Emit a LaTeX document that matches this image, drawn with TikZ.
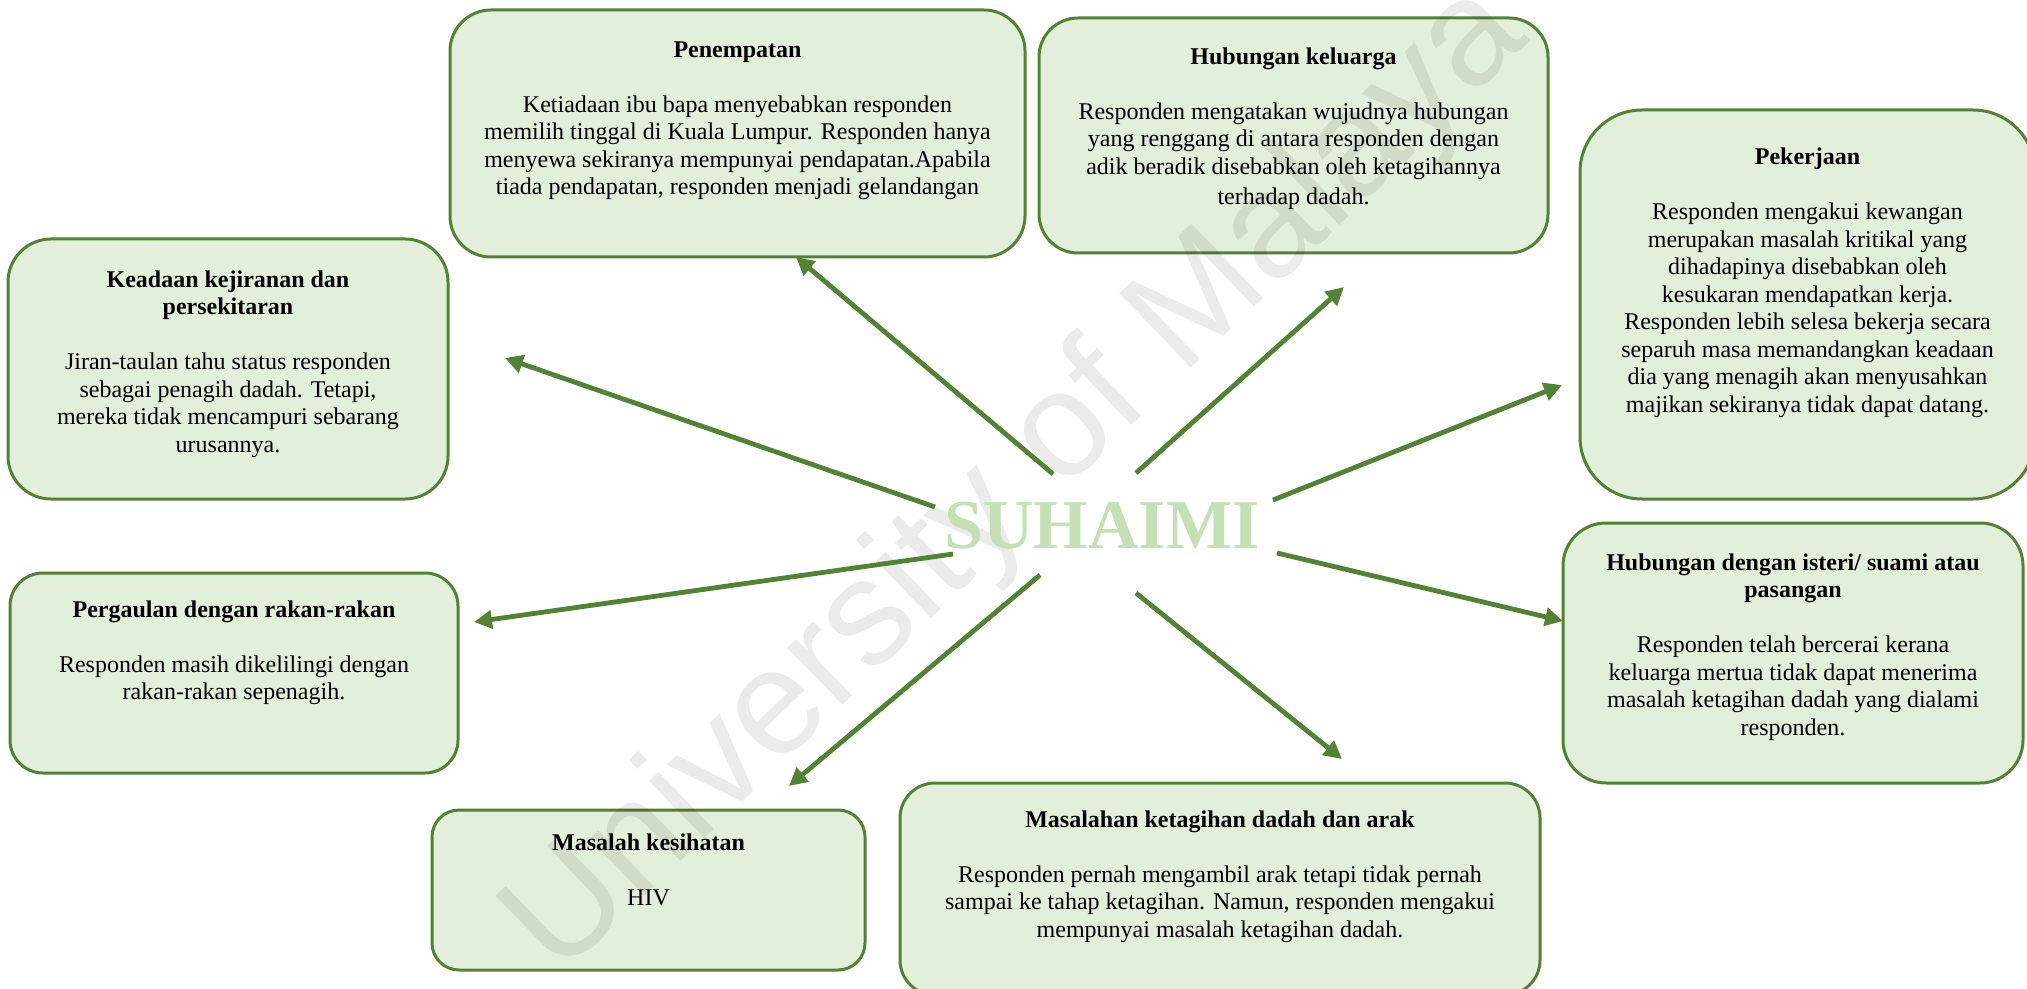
\documentclass[tikz,border=0pt]{standalone}
\usepackage{fontspec}
\setmainfont{Liberation Serif}
\newfontfamily\wmfont{Liberation Sans}
\usetikzlibrary{arrows.meta}
\definecolor{boxfill}{HTML}{E2EFDA}
\definecolor{boxline}{HTML}{548235}
\definecolor{namecol}{HTML}{C5E0B4}
\begin{document}
\begin{tikzpicture}[x=0.5pt,y=-0.5pt,
  box/.style={draw=boxline, fill=boxfill, line width=1.5pt, inner sep=0pt},
  txt/.style={align=center, inner sep=0pt, anchor=north, font=\fontsize{12}{13.75}\selectfont, text=black},
  arr/.style={draw=boxline, line width=2.4pt, -{Triangle[length=9pt,width=9pt]}}]
\useasboundingbox (0,0) rectangle (2027,989);
\clip (0,0) rectangle (2027,989);
% boxes
\node[box, minimum width=287.5pt, minimum height=123.5pt, rounded corners=20.5pt] (b1) at (737.5,133.5) {};
\node[box, minimum width=254.5pt, minimum height=117.5pt, rounded corners=19.5pt] (b2) at (1293.5,135.5) {};
\node[box, minimum width=227.5pt, minimum height=194.5pt, rounded corners=31pt] (b3) at (1807.5,304.5) {};
\node[box, minimum width=220pt, minimum height=130pt, rounded corners=21.5pt] (b4) at (228,369) {};
\node[box, minimum width=224pt, minimum height=100pt, rounded corners=16.5pt] (b5) at (234,673) {};
\node[box, minimum width=216.5pt, minimum height=80pt, rounded corners=13.5pt] (b6) at (648.5,890) {};
\node[box, minimum width=320pt, minimum height=106pt, rounded corners=17.5pt] (b7) at (1220,889) {};
\node[box, minimum width=230pt, minimum height=130pt, rounded corners=21.5pt] (b8) at (1793,653) {};
% watermark
\node[font=\wmfont\fontsize{75}{78}\selectfont, text=black, text opacity=0.08, rotate=44, inner sep=0pt] (wm) at (1018,482) {University of Malaya};
% centre name
\node[font=\bfseries\fontsize{35}{40}\selectfont, text=namecol, inner sep=0pt] (c) at (1102,526) {SUHAIMI};
% texts
\node[txt] (t1) at (737.5,37.75) {\strut\textbf{Penempatan}\\[13.75pt]
Ketiadaan ibu bapa menyebabkan responden\\
memilih tinggal di Kuala Lumpur. Responden hanya\\
menyewa sekiranya mempunyai pendapatan.Apabila\\
tiada pendapatan, responden menjadi gelandangan};
\node[txt] (t2) at (1293.5,44.75) {\strut\textbf{Hubungan keluarga}\\[13.75pt]
Responden mengatakan wujudnya hubungan\\
yang renggang di antara responden dengan\\
adik beradik disebabkan oleh ketagihannya\\[1.5pt]
terhadap dadah.};
\node[txt] (t3) at (1807.5,145) {\strut\textbf{Pekerjaan}\\[13.75pt]
Responden mengakui kewangan\\
merupakan masalah kritikal yang\\
dihadapinya disebabkan oleh\\
kesukaran mendapatkan kerja.\\
Responden lebih selesa bekerja secara\\
separuh masa memandangkan keadaan\\
dia yang menagih akan menyusahkan\\
majikan sekiranya tidak dapat datang.};
\node[txt] (t4) at (228,267.75) {\strut\textbf{Keadaan kejiranan dan}\\
\textbf{persekitaran}\\[13.75pt]
Jiran-taulan tahu status responden\\
sebagai penagih dadah. Tetapi,\\
mereka tidak mencampuri sebarang\\
urusannya.};
\node[txt] (t5) at (234,597.75) {\strut\textbf{Pergaulan dengan rakan-rakan}\\[13.75pt]
Responden masih dikelilingi dengan\\
rakan-rakan sepenagih.};
\node[txt] (t6) at (648.5,830.75) {\strut\textbf{Masalah kesihatan}\\[13.75pt]
HIV};
\node[txt] (t7) at (1220,807.75) {\strut\textbf{Masalahan ketagihan dadah dan arak}\\[13.75pt]
Responden pernah mengambil arak tetapi tidak pernah\\
sampai ke tahap ketagihan. Namun, responden mengakui\\
mempunyai masalah ketagihan dadah.};
\node[txt] (t8) at (1793,550.75) {\strut\textbf{Hubungan dengan isteri/ suami atau}\\
\textbf{pasangan}\\[13.75pt]
Responden telah bercerai kerana\\
keluarga mertua tidak dapat menerima\\
masalah ketagihan dadah yang dialami\\
responden.};
% arrow end points
\coordinate (s1) at (1053,474); \coordinate (e1) at (796,257);
\coordinate (s2) at (1136,473); \coordinate (e2) at (1344,287);
\coordinate (s3) at (1273,500); \coordinate (e3) at (1562,385);
\coordinate (s4) at (935,507);  \coordinate (e4) at (505,358);
\coordinate (s5) at (953,554);  \coordinate (e5) at (474,622);
\coordinate (s6) at (1040,575); \coordinate (e6) at (789,786);
\coordinate (s7) at (1136,593); \coordinate (e7) at (1342,759);
\coordinate (s8) at (1277,553); \coordinate (e8) at (1563,621);
\foreach \i in {1,...,8} {\draw[arr] (s\i) -- (e\i);}
\end{tikzpicture}
\end{document}
